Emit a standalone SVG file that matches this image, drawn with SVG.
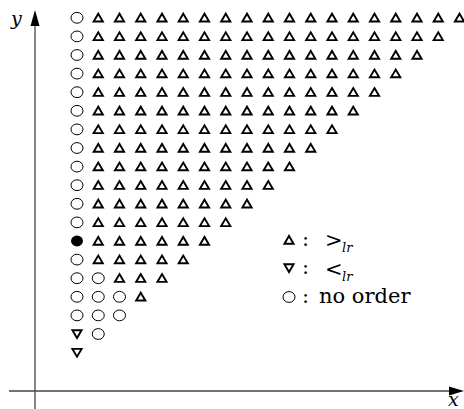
<svg xmlns="http://www.w3.org/2000/svg" width="464" height="409" viewBox="0 0 464 409">
<style>
.tri{fill:#fff;stroke:#000;stroke-width:1.9;stroke-linejoin:miter}
.circ{fill:#fff;stroke:#000;stroke-width:1}
.fill{fill:#000}
.axis{stroke:#444;stroke-width:1.3;fill:none}
.lab{font-family:"DejaVu Serif","Liberation Serif",serif;font-style:italic;font-size:19px;fill:#000}
.txt{font-family:"DejaVu Serif","Liberation Serif",serif;font-size:21px;fill:#000}
.rel{font-family:"DejaVu Serif","Liberation Serif",serif;font-size:21px;fill:#000}
.sub{font-family:"DejaVu Serif",serif;font-style:italic;font-size:13px;fill:#000}
</style>
<defs>
<path id="t" class="tri" d="M-4.6,3.7 L4.6,3.7 L0,-4.1 Z"/>
<path id="d" class="tri" d="M-4.6,-3.7 L4.6,-3.7 L0,4.1 Z"/>
<ellipse id="c" class="circ" cx="0" cy="0" rx="6" ry="5.4"/>
<ellipse id="f" class="fill" cx="0" cy="0" rx="6" ry="5.4"/>
</defs>
<g id="connectors">
<line id="y-axis" class="axis" x1="35" y1="24" x2="35" y2="409"/>
<path d="M35,10 L30.5,26 L39.5,26 Z" fill="#000"/>
<line id="x-axis" class="axis" x1="9" y1="391" x2="450" y2="391"/>
<path d="M464,391 L449,386.5 L449,395.5 Z" fill="#000"/>
</g>
<g id="axis-labels">
<text class="lab" x="11" y="25">y</text>
<text class="lab" x="448" y="406">x</text>
</g>
<g id="row0" transform="translate(0,17.8)">
<use href="#c" x="77"/><use href="#t" x="98.25"/><use href="#t" x="119.5"/><use href="#t" x="140.75"/><use href="#t" x="162"/><use href="#t" x="183.25"/><use href="#t" x="204.5"/><use href="#t" x="225.75"/><use href="#t" x="247"/><use href="#t" x="268.25"/><use href="#t" x="289.5"/><use href="#t" x="310.75"/><use href="#t" x="332"/><use href="#t" x="353.25"/><use href="#t" x="374.5"/><use href="#t" x="395.75"/><use href="#t" x="417"/><use href="#t" x="438.25"/><use href="#t" x="459.5"/>
</g>
<g id="row1" transform="translate(0,36.4)">
<use href="#c" x="77"/><use href="#t" x="98.25"/><use href="#t" x="119.5"/><use href="#t" x="140.75"/><use href="#t" x="162"/><use href="#t" x="183.25"/><use href="#t" x="204.5"/><use href="#t" x="225.75"/><use href="#t" x="247"/><use href="#t" x="268.25"/><use href="#t" x="289.5"/><use href="#t" x="310.75"/><use href="#t" x="332"/><use href="#t" x="353.25"/><use href="#t" x="374.5"/><use href="#t" x="395.75"/><use href="#t" x="417"/><use href="#t" x="438.25"/>
</g>
<g id="row2" transform="translate(0,55)">
<use href="#c" x="77"/><use href="#t" x="98.25"/><use href="#t" x="119.5"/><use href="#t" x="140.75"/><use href="#t" x="162"/><use href="#t" x="183.25"/><use href="#t" x="204.5"/><use href="#t" x="225.75"/><use href="#t" x="247"/><use href="#t" x="268.25"/><use href="#t" x="289.5"/><use href="#t" x="310.75"/><use href="#t" x="332"/><use href="#t" x="353.25"/><use href="#t" x="374.5"/><use href="#t" x="395.75"/><use href="#t" x="417"/>
</g>
<g id="row3" transform="translate(0,73.6)">
<use href="#c" x="77"/><use href="#t" x="98.25"/><use href="#t" x="119.5"/><use href="#t" x="140.75"/><use href="#t" x="162"/><use href="#t" x="183.25"/><use href="#t" x="204.5"/><use href="#t" x="225.75"/><use href="#t" x="247"/><use href="#t" x="268.25"/><use href="#t" x="289.5"/><use href="#t" x="310.75"/><use href="#t" x="332"/><use href="#t" x="353.25"/><use href="#t" x="374.5"/><use href="#t" x="395.75"/>
</g>
<g id="row4" transform="translate(0,92.2)">
<use href="#c" x="77"/><use href="#t" x="98.25"/><use href="#t" x="119.5"/><use href="#t" x="140.75"/><use href="#t" x="162"/><use href="#t" x="183.25"/><use href="#t" x="204.5"/><use href="#t" x="225.75"/><use href="#t" x="247"/><use href="#t" x="268.25"/><use href="#t" x="289.5"/><use href="#t" x="310.75"/><use href="#t" x="332"/><use href="#t" x="353.25"/><use href="#t" x="374.5"/>
</g>
<g id="row5" transform="translate(0,110.8)">
<use href="#c" x="77"/><use href="#t" x="98.25"/><use href="#t" x="119.5"/><use href="#t" x="140.75"/><use href="#t" x="162"/><use href="#t" x="183.25"/><use href="#t" x="204.5"/><use href="#t" x="225.75"/><use href="#t" x="247"/><use href="#t" x="268.25"/><use href="#t" x="289.5"/><use href="#t" x="310.75"/><use href="#t" x="332"/><use href="#t" x="353.25"/>
</g>
<g id="row6" transform="translate(0,129.4)">
<use href="#c" x="77"/><use href="#t" x="98.25"/><use href="#t" x="119.5"/><use href="#t" x="140.75"/><use href="#t" x="162"/><use href="#t" x="183.25"/><use href="#t" x="204.5"/><use href="#t" x="225.75"/><use href="#t" x="247"/><use href="#t" x="268.25"/><use href="#t" x="289.5"/><use href="#t" x="310.75"/><use href="#t" x="332"/>
</g>
<g id="row7" transform="translate(0,148)">
<use href="#c" x="77"/><use href="#t" x="98.25"/><use href="#t" x="119.5"/><use href="#t" x="140.75"/><use href="#t" x="162"/><use href="#t" x="183.25"/><use href="#t" x="204.5"/><use href="#t" x="225.75"/><use href="#t" x="247"/><use href="#t" x="268.25"/><use href="#t" x="289.5"/><use href="#t" x="310.75"/>
</g>
<g id="row8" transform="translate(0,166.6)">
<use href="#c" x="77"/><use href="#t" x="98.25"/><use href="#t" x="119.5"/><use href="#t" x="140.75"/><use href="#t" x="162"/><use href="#t" x="183.25"/><use href="#t" x="204.5"/><use href="#t" x="225.75"/><use href="#t" x="247"/><use href="#t" x="268.25"/><use href="#t" x="289.5"/>
</g>
<g id="row9" transform="translate(0,185.2)">
<use href="#c" x="77"/><use href="#t" x="98.25"/><use href="#t" x="119.5"/><use href="#t" x="140.75"/><use href="#t" x="162"/><use href="#t" x="183.25"/><use href="#t" x="204.5"/><use href="#t" x="225.75"/><use href="#t" x="247"/><use href="#t" x="268.25"/>
</g>
<g id="row10" transform="translate(0,203.8)">
<use href="#c" x="77"/><use href="#t" x="98.25"/><use href="#t" x="119.5"/><use href="#t" x="140.75"/><use href="#t" x="162"/><use href="#t" x="183.25"/><use href="#t" x="204.5"/><use href="#t" x="225.75"/><use href="#t" x="247"/>
</g>
<g id="row11" transform="translate(0,222.4)">
<use href="#c" x="77"/><use href="#t" x="98.25"/><use href="#t" x="119.5"/><use href="#t" x="140.75"/><use href="#t" x="162"/><use href="#t" x="183.25"/><use href="#t" x="204.5"/><use href="#t" x="225.75"/>
</g>
<g id="row12" transform="translate(0,241)">
<use href="#f" x="77"/><use href="#t" x="98.25"/><use href="#t" x="119.5"/><use href="#t" x="140.75"/><use href="#t" x="162"/><use href="#t" x="183.25"/><use href="#t" x="204.5"/>
</g>
<g id="row13" transform="translate(0,259.6)">
<use href="#c" x="77"/><use href="#t" x="98.25"/><use href="#t" x="119.5"/><use href="#t" x="140.75"/><use href="#t" x="162"/><use href="#t" x="183.25"/>
</g>
<g id="row14" transform="translate(0,278.2)">
<use href="#c" x="77"/><use href="#c" x="98.25"/><use href="#t" x="119.5"/><use href="#t" x="140.75"/><use href="#t" x="162"/>
</g>
<g id="row15" transform="translate(0,296.8)">
<use href="#c" x="77"/><use href="#c" x="98.25"/><use href="#c" x="119.5"/><use href="#t" x="140.75"/>
</g>
<g id="row16" transform="translate(0,315.4)">
<use href="#c" x="77"/><use href="#c" x="98.25"/><use href="#c" x="119.5"/>
</g>
<g id="row17" transform="translate(0,334)">
<use href="#d" x="77"/><use href="#c" x="98.25"/>
</g>
<g id="row18" transform="translate(0,352.6)">
<use href="#d" x="77"/>
</g>
<g id="legend-gt">
<use href="#t" x="289" y="240"/>
<text class="txt" x="302" y="246">:</text>
<text class="rel" x="325" y="247">&gt;</text>
<text class="sub" x="342" y="252">lr</text>
</g>
<g id="legend-lt">
<use href="#d" x="289" y="268"/>
<text class="txt" x="302" y="274">:</text>
<text class="rel" x="325" y="276">&lt;</text>
<text class="sub" x="342" y="281">lr</text>
</g>
<g id="legend-none">
<use href="#c" x="289" y="297"/>
<text class="txt" x="302" y="303">:</text>
<text class="txt" x="319" y="303">no order</text>
</g>
</svg>
